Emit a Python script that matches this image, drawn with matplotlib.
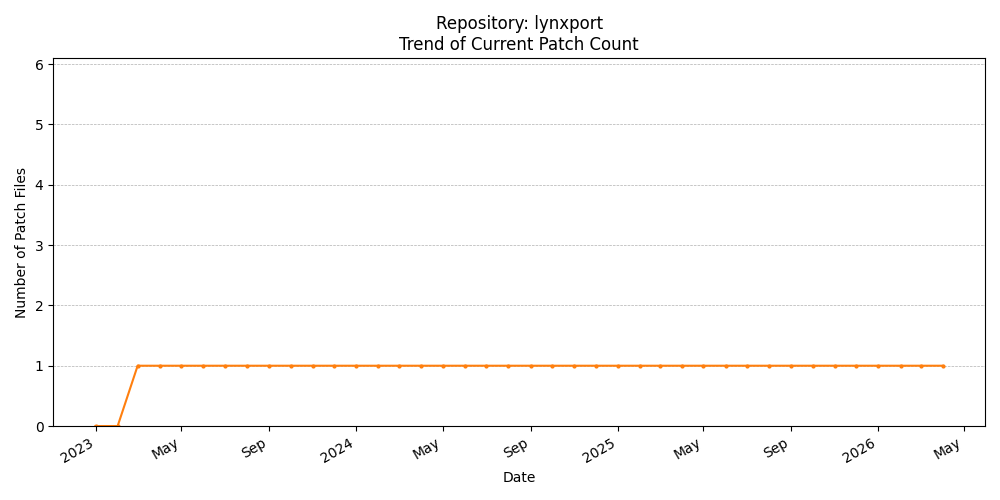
import matplotlib
matplotlib.use("Agg")
import matplotlib.pyplot as plt
import matplotlib.dates as mdates
import pandas as pd

repo_name = "lynxport"
dates = pd.date_range("2023-01-01", "2026-04-01", freq="MS")
patch_counts = [0, 0] + [1] * (len(dates) - 2)

fig, ax = plt.subplots(figsize=(10, 5))
ax.plot(dates, patch_counts, marker="o", markersize=2, color="tab:orange", linestyle="-")

ax.set_title(f"Repository: {repo_name}\nTrend of Current Patch Count")
ax.set_xlabel("Date")
ax.set_ylabel("Number of Patch Files")
ax.set_ylim(0, 6.1)
ax.grid(True, axis="y", linestyle="--", linewidth=0.5)

locator = mdates.AutoDateLocator()
ax.xaxis.set_major_locator(locator)
ax.xaxis.set_major_formatter(mdates.ConciseDateFormatter(locator))
fig.autofmt_xdate()

fig.tight_layout()
fig.savefig("out.png", dpi=100)
plt.close(fig)
